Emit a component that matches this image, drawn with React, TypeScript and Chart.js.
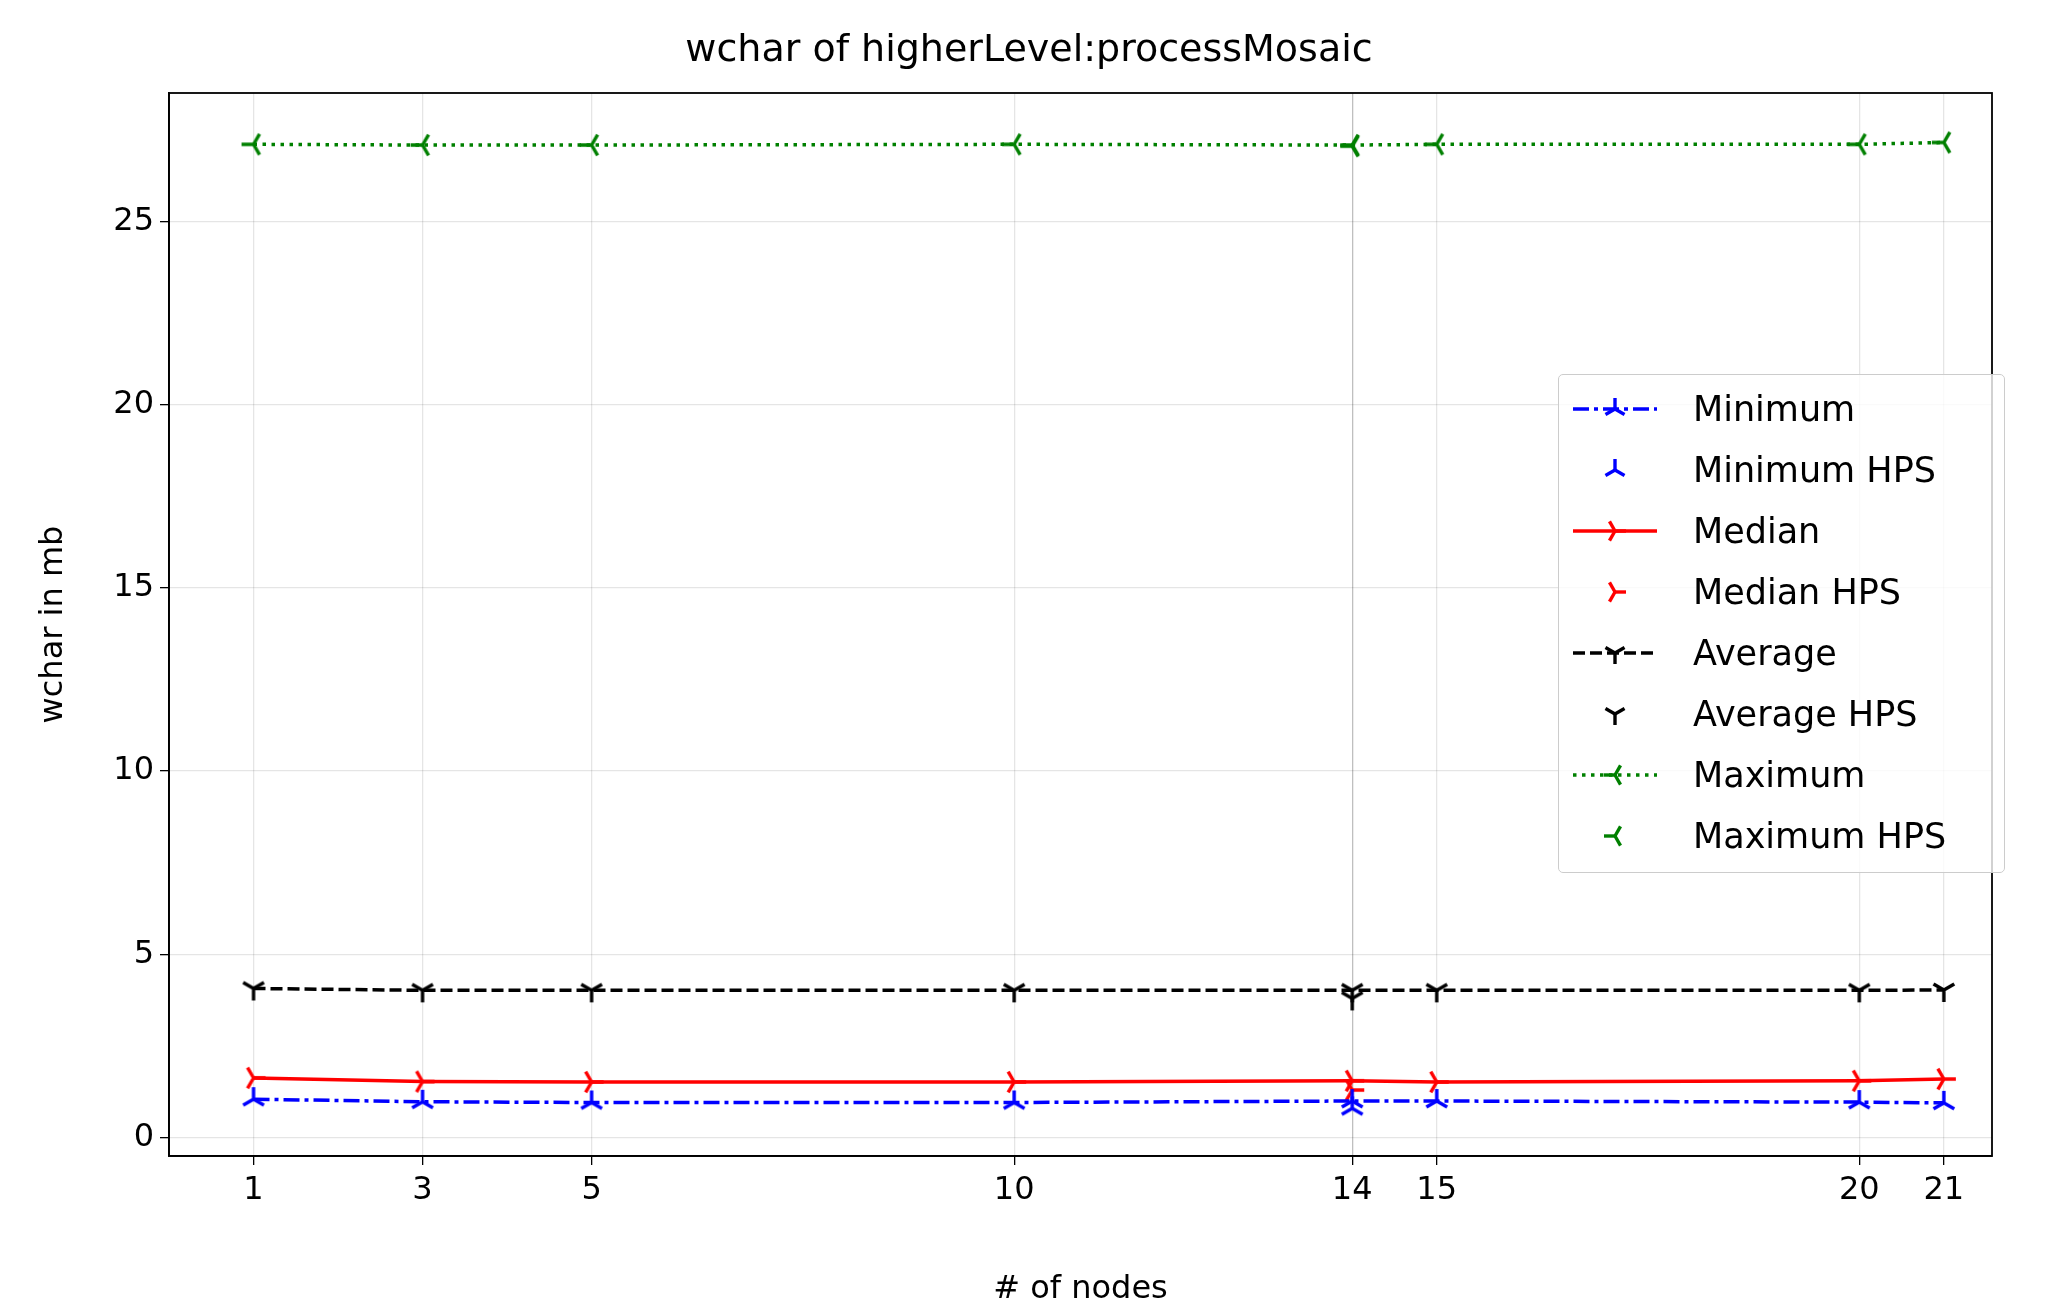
import { useEffect, useRef } from 'react';
import { Chart, registerables } from 'chart.js';

Chart.register(...registerables);

const nodes = [1, 3, 5, 10, 14, 15, 20, 21];
const minimum = [1.05, 0.98, 0.96, 0.96, 1.0, 1.0, 0.97, 0.95];
const median = [1.63, 1.53, 1.52, 1.52, 1.55, 1.52, 1.55, 1.6];
const average = [4.07, 4.02, 4.02, 4.02, 4.02, 4.02, 4.02, 4.03];
const maximum = [27.1, 27.08, 27.08, 27.1, 27.08, 27.1, 27.1, 27.15];
const hpsNodes = [14];
const minimumHps = [0.8];
const medianHps = [1.3];
const averageHps = [3.8];
const maximumHps = [27.05];
const yTicks = [0, 5, 10, 15, 20, 25];

// matplotlib-like tri markers: angles of the three arms (screen coords, y down)
const triAngles: Record<string, number[]> = {
  down: [90, 210, 330],
  up: [270, 30, 150],
  left: [180, 300, 60],
  right: [0, 120, 240],
};

const makeTri = (dir: string, color: string) => {
  const s = 28;
  const c = document.createElement('canvas');
  c.width = s;
  c.height = s;
  const g = c.getContext('2d')!;
  g.strokeStyle = color;
  g.lineWidth = 3.4;
  g.beginPath();
  for (const a of triAngles[dir]) {
    const r = (a * Math.PI) / 180;
    g.moveTo(s / 2, s / 2);
    g.lineTo(s / 2 + Math.cos(r) * 12, s / 2 + Math.sin(r) * 12);
  }
  g.stroke();
  return c;
};

const pts = (xs: number[], ys: number[]) => xs.map((x, i) => ({ x, y: ys[i] }));

const legendItems = [
  { label: 'Minimum', color: '#0000ff', dash: '16 5 4 5', dir: 'up', line: true },
  { label: 'Minimum HPS', color: '#0000ff', dash: '', dir: 'up', line: false },
  { label: 'Median', color: '#ff0000', dash: '', dir: 'right', line: true },
  { label: 'Median HPS', color: '#ff0000', dash: '', dir: 'right', line: false },
  { label: 'Average', color: '#000000', dash: '12 5', dir: 'down', line: true },
  { label: 'Average HPS', color: '#000000', dash: '', dir: 'down', line: false },
  { label: 'Maximum', color: '#008000', dash: '3.5 5.5', dir: 'left', line: true },
  { label: 'Maximum HPS', color: '#008000', dash: '', dir: 'left', line: false },
];

const TriSvg = ({ dir, color }: { dir: string; color: string }) => (
  <g stroke={color} strokeWidth={3.4}>
    {triAngles[dir].map((a) => {
      const r = (a * Math.PI) / 180;
      return <line key={a} x1={0} y1={0} x2={Math.cos(r) * 11} y2={Math.sin(r) * 11} />;
    })}
  </g>
);

const App = () => {
  const chartRef = useRef<HTMLCanvasElement>(null);
  const chartInstance = useRef<Chart | null>(null);

  useEffect(() => {
    if (!chartRef.current) return;
    const ctx = chartRef.current.getContext('2d');
    if (!ctx) return;
    if (chartInstance.current) chartInstance.current.destroy();

    const line = (label: string, ys: number[], color: string, dash: number[], dir: string) => ({
      label,
      data: pts(nodes, ys),
      borderColor: color,
      backgroundColor: color,
      borderWidth: 3.5,
      borderDash: dash,
      showLine: true,
      pointStyle: makeTri(dir, color),
      pointRadius: 12,
    });
    const hps = (label: string, ys: number[], color: string, dir: string) => ({
      label,
      data: pts(hpsNodes, ys),
      borderColor: color,
      backgroundColor: color,
      showLine: false,
      pointStyle: makeTri(dir, color),
      pointRadius: 12,
    });

    const font = { family: 'DejaVu Sans', size: 32 };

    chartInstance.current = new Chart(ctx, {
      type: 'scatter',
      data: {
        datasets: [
          line('Minimum', minimum, '#0000ff', [16, 5, 4, 5], 'up'),
          hps('Minimum HPS', minimumHps, '#0000ff', 'up'),
          line('Median', median, '#ff0000', [], 'right'),
          hps('Median HPS', medianHps, '#ff0000', 'right'),
          line('Average', average, '#000000', [12, 5], 'down'),
          hps('Average HPS', averageHps, '#000000', 'down'),
          line('Maximum', maximum, '#008000', [3.5, 5.5], 'left'),
          hps('Maximum HPS', maximumHps, '#008000', 'left'),
        ] as any,
      },
      options: {
        animation: false,
        responsive: false,
        layout: { padding: { top: 93, right: 66, left: 30, bottom: 0 } },
        plugins: { legend: { display: false }, tooltip: { enabled: false } },
        scales: {
          x: {
            type: 'linear',
            min: 0.0,
            max: 21.57,
            afterBuildTicks: (axis: any) => {
              axis.ticks = nodes.map((v) => ({ value: v }));
            },
            afterFit: (axis: any) => {
              axis.height = 157;
            },
            grid: {
              color: (c: any) => (c.tick && c.tick.value === 14 ? 'rgba(0,0,0,0.25)' : 'rgba(0,0,0,0.1)'),
              lineWidth: 1.3,
              tickColor: '#000',
              tickLength: 9,
            },
            border: { color: '#000', width: 1.8 },
            ticks: { color: '#000', font, padding: 6, maxRotation: 0, autoSkip: false },
            title: { display: true, text: '# of nodes', color: '#000', font, padding: { top: 6 } },
          },
          y: {
            type: 'linear',
            min: -0.5,
            max: 28.5,
            afterBuildTicks: (axis: any) => {
              axis.ticks = yTicks.map((v) => ({ value: v }));
            },
            afterFit: (axis: any) => {
              axis.width = 139;
            },
            grid: { color: 'rgba(0,0,0,0.1)', lineWidth: 1.3, tickColor: '#000', tickLength: 9 },
            border: { color: '#000', width: 1.8 },
            ticks: { color: '#000', font, padding: 6 },
            title: { display: true, text: 'wchar in mb', color: '#000', font, padding: { bottom: 10 } },
          },
        },
      },
      plugins: [
        {
          id: 'frame',
          afterDraw: (chart: any) => {
            const { ctx: c, chartArea: a } = chart;
            c.save();
            c.strokeStyle = '#000';
            c.lineWidth = 1.8;
            c.strokeRect(a.left, a.top, a.right - a.left, a.bottom - a.top);
            c.restore();
          },
        },
      ],
    });

    return () => {
      if (chartInstance.current) chartInstance.current.destroy();
    };
  }, []);

  return (
    <div style={{ position: 'fixed', left: 0, top: 0, width: 2058, height: 1313, background: '#fff', fontFamily: 'DejaVu Sans' }}>
      <canvas ref={chartRef} width={2058} height={1313} style={{ width: 2058, height: 1313 }} />
      <div style={{ position: 'absolute', left: 0, width: 2058, top: 26, textAlign: 'center', fontSize: 38, color: '#000' }}>
        {'wchar of higherLevel:processMosaic'}
      </div>
      <div
        style={{
          position: 'absolute',
          left: 1558,
          top: 374,
          width: 447,
          height: 499,
          border: '1.8px solid #cccccc',
          borderRadius: 5,
          background: 'rgba(255,255,255,0.8)',
          boxSizing: 'border-box',
        }}
      >
        {legendItems.map((it, i) => (
          <div key={it.label} style={{ position: 'absolute', left: 12, top: 12 + i * 61, height: 44, display: 'flex', alignItems: 'center' }}>
            <svg width={90} height={30}>
              {it.line && (
                <line x1={2} y1={15} x2={86} y2={15} stroke={it.color} strokeWidth={3.6} strokeDasharray={it.dash} />
              )}
              <g transform="translate(44,15)">
                <TriSvg dir={it.dir} color={it.color} />
              </g>
            </svg>
            <span style={{ marginLeft: 32, fontSize: 35, color: '#000' }}>{it.label}</span>
          </div>
        ))}
      </div>
    </div>
  );
};

export default App;
